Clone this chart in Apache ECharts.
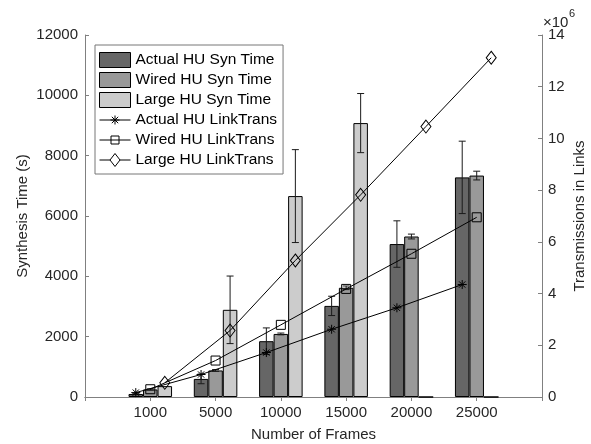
<!DOCTYPE html>
<html>
<head>
<meta charset="utf-8">
<script src="https://cdn.jsdelivr.net/npm/echarts@6/dist/echarts.min.js"></script>
<style>
  html, body { margin: 0; padding: 0; background: #fff; }
  #main { width: 591px; height: 444px; }
</style>
</head>
<body>
<div id="main"></div>
<script>
  // x categories
  var frames = ['1000', '5000', '10000', '15000', '20000', '25000'];
  // synthesis time (s), left axis
  var actualTime = [100, 600, 1850, 3020, 5070, 7280];
  var actualErr = [20, 160, 440, 320, 770, 1200];
  var wiredTime = [250, 880, 2090, 3620, 5320, 7340];
  var wiredErr = [20, 30, 30, 60, 80, 145];
  var largeTime = [360, 2890, 6660, 9080, 0, 0];
  var largeErr = [0, 1120, 1540, 980, 0, 0];
  // transmissions in links, right axis
  var actualTrans = [0.17e6, 0.87e6, 1.72e6, 2.62e6, 3.45e6, 4.35e6];
  var wiredTrans = [0.30e6, 1.41e6, 2.79e6, 4.18e6, 5.54e6, 6.95e6];
  var largeTrans = [0.55e6, 2.57e6, 5.28e6, 7.82e6, 10.46e6, 13.12e6];
  // left / right ticks
  var leftTicks = { min: 0, max: 12000, interval: 2000 };
  var rightTicks = { min: 0, max: 14e6, interval: 2e6 };

  var font = "'Liberation Sans', Arial, sans-serif";
  var axisGray = '#808080';
  var textColor = '#262626';
  // bar width as a fraction of one category step (3 bars per group)
  var barFrac = 2 / 9;

  // categories padded with an empty slot on both ends (xlim 0..7)
  var cats = [''].concat(frames, ['']);
  function pad(arr) { return ['-'].concat(arr, ['-']); }
  function atOffset(arr, k) {
    return arr.map(function (v, i) { return [i + 1 + (k - 1) * barFrac, v]; });
  }
  function errData(vals, errs, k) {
    var out = [];
    vals.forEach(function (v, i) {
      if (errs[i] > 0) out.push([i + 1 + (k - 1) * barFrac, v, errs[i]]);
    });
    return out;
  }

  function renderErr(params, api) {
    var x = api.value(0), v = api.value(1), e = api.value(2);
    var top = api.coord([x, v + e]);
    var bot = api.coord([x, v - e]);
    var hw = 3.5;
    var st = { stroke: '#1a1a1a', lineWidth: 1 };
    return {
      type: 'group',
      children: [
        { type: 'line', shape: { x1: top[0], y1: top[1], x2: bot[0], y2: bot[1] }, style: st },
        { type: 'line', shape: { x1: top[0] - hw, y1: top[1], x2: top[0] + hw, y2: top[1] }, style: st },
        { type: 'line', shape: { x1: bot[0] - hw, y1: bot[1], x2: bot[0] + hw, y2: bot[1] }, style: st }
      ]
    };
  }

  function barSeries(name, data, color) {
    return {
      name: name,
      type: 'bar',
      xAxisIndex: 0,
      yAxisIndex: 0,
      data: pad(data),
      barWidth: (barFrac * 100) + '%',
      barGap: '0%',
      itemStyle: { color: color, borderColor: '#000', borderWidth: 1 },
      emphasis: { disabled: true }
    };
  }

  function errSeries(vals, errs, k) {
    return {
      type: 'custom',
      xAxisIndex: 1,
      yAxisIndex: 0,
      data: errData(vals, errs, k),
      encode: { x: 0, y: 1 },
      renderItem: renderErr,
      silent: true,
      z: 3
    };
  }

  function lineSeries(name, data, k, symbol, size) {
    return {
      name: name,
      type: 'line',
      xAxisIndex: 1,
      yAxisIndex: 1,
      data: atOffset(data, k),
      symbol: symbol,
      symbolSize: size,
      showAllSymbol: true,
      lineStyle: { color: '#000', width: 1 },
      itemStyle: { color: 'rgba(0,0,0,0)', borderColor: '#000', borderWidth: 1 },
      emphasis: { disabled: true },
      z: 4
    };
  }

  var starPath = 'path://M5,0L5,10M0,5L10,5M1.5,1.5L8.5,8.5M1.5,8.5L8.5,1.5';
  // legend icons: a line with the marker in the middle
  var starIcon = 'path://M0,7.5L31,7.5M15.5,3L15.5,12M11,7.5L20,7.5M12.3,4.3L18.7,10.7M12.3,10.7L18.7,4.3';
  var rectIcon = 'path://M0,7.5L31,7.5M11.5,3.5L19.5,3.5L19.5,11.5L11.5,11.5Z';
  var diamondIcon = 'path://M0,7.5L10.5,7.5M20.5,7.5L31,7.5M15.5,1L20.5,7.5L15.5,14L10.5,7.5Z';

  var names = ['Actual HU Syn Time', 'Wired HU Syn Time', 'Large HU Syn Time',
    'Actual HU LinkTrans', 'Wired HU LinkTrans', 'Large HU LinkTrans'];

  var lineIconStyle = { color: 'rgba(0,0,0,0)', borderColor: '#000', borderWidth: 1 };
  function barIconStyle(color) {
    return { color: color, borderColor: '#000', borderWidth: 1 };
  }

  var myChart = echarts.init(document.getElementById('main'));
  myChart.setOption({
    animation: false,
    backgroundColor: '#fff',
    textStyle: { fontFamily: font },
    grid: {
      left: 85, top: 35, right: 49, bottom: 47,
      containLabel: false,
      outerBoundsMode: 'none'
    },
    legend: {
      orient: 'vertical',
      left: 95,
      top: 45,
      backgroundColor: '#fff',
      borderColor: '#777',
      borderWidth: 1,
      borderRadius: 0,
      padding: [7, 6, 6, 4],
      itemGap: 4,
      itemWidth: 31,
      itemHeight: 15,
      textStyle: { fontSize: 15.5, color: '#000', lineHeight: 16, fontFamily: font },
      data: [
        { name: names[0], icon: 'rect', itemStyle: barIconStyle('#666666') },
        { name: names[1], icon: 'rect', itemStyle: barIconStyle('#999999') },
        { name: names[2], icon: 'rect', itemStyle: barIconStyle('#cccccc') },
        { name: names[3], icon: starIcon, itemStyle: lineIconStyle },
        { name: names[4], icon: rectIcon, itemStyle: lineIconStyle },
        { name: names[5], icon: diamondIcon, itemStyle: lineIconStyle }
      ]
    },
    xAxis: [
      {
        type: 'category',
        data: cats,
        boundaryGap: false,
        position: 'bottom',
        axisLine: { lineStyle: { color: axisGray, width: 1 } },
        axisTick: { inside: true, length: 4, interval: 0, lineStyle: { color: axisGray } },
        axisLabel: { interval: 0, fontSize: 15, color: textColor, margin: 8, fontFamily: font },
        splitLine: { show: false },
        name: 'Number of Frames',
        nameLocation: 'middle',
        nameGap: 30,
        nameMoveOverlap: false,
        nameTextStyle: { fontSize: 15, color: textColor, fontFamily: font }
      },
      {
        type: 'value',
        min: 0,
        max: 7,
        interval: 1,
        position: 'top',
        axisLine: { show: true, lineStyle: { color: axisGray, width: 1 } },
        axisTick: { show: true, inside: true, length: 4, lineStyle: { color: axisGray } },
        axisLabel: { show: false },
        splitLine: { show: false }
      }
    ],
    yAxis: [
      {
        type: 'value',
        position: 'left',
        min: leftTicks.min,
        max: leftTicks.max,
        interval: leftTicks.interval,
        axisLine: { show: true, lineStyle: { color: axisGray, width: 1 } },
        axisTick: { show: true, inside: true, length: 4, lineStyle: { color: axisGray } },
        axisLabel: {
          fontSize: 15, color: textColor, margin: 7, fontFamily: font,
          formatter: function (v) { return String(v); }
        },
        splitLine: { show: false },
        name: 'Synthesis Time (s)',
        nameLocation: 'middle',
        nameGap: 55,
        nameMoveOverlap: false,
        nameTextStyle: { fontSize: 15, color: textColor, fontFamily: font }
      },
      {
        type: 'value',
        position: 'right',
        min: rightTicks.min,
        max: rightTicks.max,
        interval: rightTicks.interval,
        axisLine: { show: true, lineStyle: { color: axisGray, width: 1 } },
        axisTick: { show: true, inside: true, length: 4, lineStyle: { color: axisGray } },
        axisLabel: {
          fontSize: 15, color: textColor, margin: 6, fontFamily: font,
          formatter: function (v) { return String(v / 1e6); }
        },
        splitLine: { show: false },
        name: 'Transmissions in Links',
        nameLocation: 'middle',
        nameRotate: 90,
        nameGap: 30,
        nameMoveOverlap: false,
        nameTextStyle: { fontSize: 15, color: textColor, fontFamily: font }
      }
    ],
    graphic: [
      { type: 'text', left: 543, top: 15, style: { text: '\u00d710', fontSize: 15, fill: textColor, fontFamily: font } },
      { type: 'text', left: 569, top: 8, style: { text: '6', fontSize: 11, fill: textColor, fontFamily: font } }
    ],
    series: [
      barSeries(names[0], actualTime, '#666666'),
      barSeries(names[1], wiredTime, '#999999'),
      barSeries(names[2], largeTime, '#cccccc'),
      errSeries(actualTime, actualErr, 0),
      errSeries(wiredTime, wiredErr, 1),
      errSeries(largeTime, largeErr, 2),
      lineSeries(names[3], actualTrans, 0, starPath, 9),
      lineSeries(names[4], wiredTrans, 1, 'rect', 9),
      lineSeries(names[5], largeTrans, 2, 'diamond', [10, 13])
    ]
  });
</script>
</body>
</html>
